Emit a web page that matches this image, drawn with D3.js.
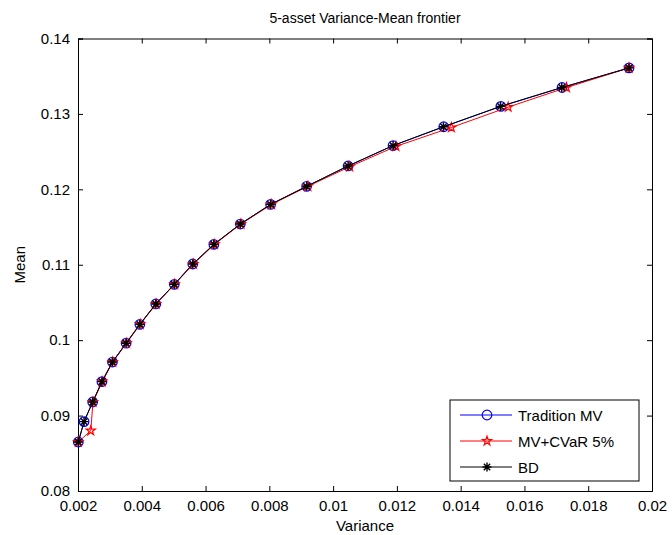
<!DOCTYPE html>
<html>
<head>
<meta charset="utf-8">
<script src="https://cdn.jsdelivr.net/npm/d3@7"></script>
<style>
  body { margin: 0; background: #fff; }
  text { font-family: "Liberation Sans", Arial, sans-serif; fill: #000; }
</style>
</head>
<body>
<div class="canvas"></div>
<script>
      // data
      const seriesNames = ['Tradition MV', 'MV+CVaR 5%', 'BD'];

      const mvVariance = [0.00201, 0.00219, 0.00246, 0.00275, 0.00308, 0.00351, 0.00394, 0.00444, 0.00502, 0.00560,
        0.00626, 0.00709, 0.00804, 0.00917, 0.01047, 0.01188, 0.01347, 0.01526, 0.01718, 0.01928];
      const mvMean = [0.0865, 0.0892, 0.0918, 0.0945, 0.0971, 0.0996, 0.1021, 0.1048, 0.1074, 0.1101,
        0.1127, 0.1154, 0.1180, 0.1204, 0.1231, 0.1258, 0.1283, 0.1310, 0.1335, 0.1361];

      const cvarVariance = [0.00201, 0.00240, 0.00247, 0.00276, 0.00309, 0.00352, 0.00395, 0.00445, 0.00503, 0.00562,
        0.00628, 0.00711, 0.00807, 0.00921, 0.01052, 0.01197, 0.01371, 0.01549, 0.01732, 0.01928];
      const cvarMean = [0.0865, 0.0880, 0.0918, 0.0945, 0.0971, 0.0996, 0.1021, 0.1048, 0.1074, 0.1101,
        0.1127, 0.1154, 0.1180, 0.1204, 0.1230, 0.1257, 0.1282, 0.1309, 0.1335, 0.1361];

      const bdVariance = [0.00201, 0.00219, 0.00246, 0.00275, 0.00308, 0.00351, 0.00394, 0.00444, 0.00502, 0.00560,
        0.00626, 0.00709, 0.00804, 0.00917, 0.01047, 0.01188, 0.01346, 0.01525, 0.01717, 0.01928];
      const bdMean = [0.0865, 0.0892, 0.0918, 0.0945, 0.0971, 0.0996, 0.1021, 0.1048, 0.1074, 0.1101,
        0.1127, 0.1154, 0.1180, 0.1204, 0.1231, 0.1258, 0.1283, 0.1310, 0.1335, 0.1361];

      const xTicks = [0.002, 0.004, 0.006, 0.008, 0.01, 0.012, 0.014, 0.016, 0.018, 0.02];
      const yTicks = [0.08, 0.09, 0.1, 0.11, 0.12, 0.13, 0.14];

      const margin = { top: 38.5, right: 20, bottom: 44, left: 78 };
      const graphwidth = 672 - margin.left - margin.right;
      const graphheight = 535 - margin.top - margin.bottom;

      const svg = d3.select('.canvas')
        .append('svg')
        .attr('width', 672)
        .attr('height', 535);

      const graph = svg.append('g')
        .attr('transform', `translate(${margin.left}, ${margin.top})`);

      // scales
      const x = d3.scaleLinear().domain([0.002, 0.02]).range([0, graphwidth]);
      const y = d3.scaleLinear().domain([0.08, 0.14]).range([graphheight, 0]);

      // axes, matlab style: ticks inside, on all four sides
      const tickLen = 5;
      const fmt = d => String(+d.toFixed(4));

      graph.append('g')
        .attr('transform', `translate(0, ${graphheight})`)
        .call(d3.axisBottom(x).tickValues(xTicks).tickSize(-tickLen).tickPadding(9).tickFormat(fmt));
      graph.append('g')
        .call(d3.axisTop(x).tickValues(xTicks).tickSize(-tickLen).tickFormat(''));
      graph.append('g')
        .call(d3.axisLeft(y).tickValues(yTicks).tickSize(-tickLen).tickPadding(8).tickFormat(fmt));
      graph.append('g')
        .attr('transform', `translate(${graphwidth}, 0)`)
        .call(d3.axisRight(y).tickValues(yTicks).tickSize(-tickLen).tickFormat(''));

      graph.selectAll('.domain').attr('stroke', '#000').attr('stroke-width', 1);
      graph.selectAll('.tick line').attr('stroke', '#000');
      graph.selectAll('.tick text')
        .style('font-family', '"Liberation Sans", Arial, sans-serif')
        .style('font-size', '15px')
        .attr('fill', '#000');

      // titles
      svg.append('text')
        .attr('x', margin.left + graphwidth / 2)
        .attr('y', 23)
        .attr('text-anchor', 'middle')
        .style('font-size', '14px')
        .text('5-asset Variance-Mean frontier');

      svg.append('text')
        .attr('x', margin.left + graphwidth / 2)
        .attr('y', 531)
        .attr('text-anchor', 'middle')
        .style('font-size', '15px')
        .text('Variance');

      svg.append('text')
        .attr('transform', `translate(25, ${margin.top + graphheight / 2}) rotate(-90)`)
        .attr('text-anchor', 'middle')
        .style('font-size', '15px')
        .text('Mean');

      // series
      const zip = (xs, ys) => xs.map((v, i) => ({ v: v, m: ys[i] }));
      const series = [
        { name: seriesNames[0], color: '#0000ff', marker: 'circle', data: zip(mvVariance, mvMean) },
        { name: seriesNames[1], color: '#ff0000', marker: 'star', data: zip(cvarVariance, cvarMean) },
        { name: seriesNames[2], color: '#000000', marker: 'asterisk', data: zip(bdVariance, bdMean) }
      ];

      const line = d3.line()
        .x(d => x(d.v))
        .y(d => y(d.m));

      const drawMarker = (g, type, color) => {
        if (type === 'circle') {
          g.append('circle').attr('r', 4.8).attr('fill', 'none').attr('stroke', color).attr('stroke-width', 1.2);
        } else if (type === 'star') {
          g.append('path').attr('d', d3.symbol(d3.symbolStar, 26)()).attr('fill', 'none')
            .attr('stroke', color).attr('stroke-width', 1.2);
        } else {
          const r = 4.5, k = r * Math.SQRT1_2;
          g.append('path')
            .attr('d', `M${-r},0H${r}M0,${-r}V${r}M${-k},${-k}L${k},${k}M${-k},${k}L${k},${-k}`)
            .attr('stroke', color).attr('stroke-width', 1.4);
        }
      };

      const plot = graph.append('g');
      series.forEach(s => {
        plot.append('path')
          .datum(s.data)
          .attr('fill', 'none')
          .attr('stroke', s.color)
          .attr('stroke-width', 1)
          .attr('d', line);

        plot.selectAll(null)
          .data(s.data)
          .enter()
          .append('g')
            .attr('transform', d => `translate(${x(d.v)}, ${y(d.m)})`)
            .each(function() { drawMarker(d3.select(this), s.marker, s.color); });
      });

      // legend
      const legend = svg.append('g').attr('transform', 'translate(450, 400)');
      legend.append('rect')
        .attr('width', 189).attr('height', 81)
        .attr('fill', '#fff').attr('stroke', '#000').attr('stroke-width', 1);

      series.forEach((s, i) => {
        const row = legend.append('g').attr('transform', `translate(0, ${15 + i * 26})`);
        row.append('line').attr('x1', 10).attr('x2', 62).attr('stroke', s.color).attr('stroke-width', 1);
        drawMarker(row.append('g').attr('transform', 'translate(37, 0)'), s.marker, s.color);
        row.append('text')
          .attr('x', 68).attr('y', 5.5)
          .style('font-size', '15px')
          .text(s.name);
      });
</script>
</body>
</html>
